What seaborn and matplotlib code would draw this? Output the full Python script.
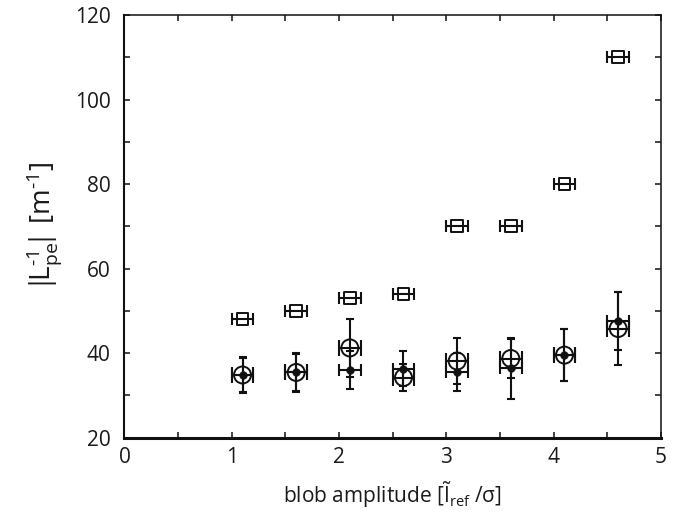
import matplotlib
matplotlib.use("Agg")
import matplotlib.pyplot as plt
import seaborn as sns
import pandas as pd
from matplotlib.ticker import MultipleLocator

# ---- data ----
amplitude = [1.1, 1.6, 2.1, 2.6, 3.1, 3.6, 4.1, 4.6]
amp_err = [0.1, 0.1, 0.1, 0.1, 0.1, 0.1, 0.1, 0.1]

square_vals = [48, 50, 53, 54, 70, 70, 80, 110]

circle_vals = [34.8, 35.4, 41.2, 34.2, 38.1, 38.7, 39.5, 45.8]
circle_err = [4.3, 4.6, 6.8, 3.1, 5.5, 4.6, 6.1, 8.7]

dot_vals = [34.8, 35.4, 36.0, 36.3, 35.6, 36.4, 39.5, 47.6]
dot_err = [4.0, 4.3, 4.4, 4.2, 4.5, 7.2, 6.1, 6.9]

xticks = [0, 1, 2, 3, 4, 5]
yticks = [20, 40, 60, 80, 100, 120]

sns.set_style("ticks")
plt.rcParams["font.family"] = ["Open Sans", "DejaVu Sans"]
plt.rcParams["mathtext.fontset"] = "custom"
plt.rcParams["mathtext.rm"] = "Open Sans"
plt.rcParams["mathtext.it"] = "Open Sans"
plt.rcParams["mathtext.default"] = "regular"

df_sq = pd.DataFrame({"x": amplitude, "y": square_vals})
df_ci = pd.DataFrame({"x": amplitude, "y": circle_vals})
df_dt = pd.DataFrame({"x": amplitude, "y": dot_vals})

fig = plt.figure(figsize=(6.78, 5.14), dpi=100)
ax = fig.add_axes([0.1836, 0.1488, 0.975 - 0.1836, 0.9708 - 0.1488])

col = "#111111"
lw = 1.5

# squares: horizontal error bars only
ax.errorbar(amplitude, square_vals, xerr=amp_err, fmt="none", ecolor=col,
            elinewidth=lw, capsize=4.6, capthick=lw, zorder=2)
# circles
ax.errorbar(amplitude, circle_vals, xerr=amp_err, fmt="none", ecolor=col,
            elinewidth=lw, capsize=5.8, capthick=lw, zorder=2)
ax.errorbar(amplitude, circle_vals, yerr=circle_err, fmt="none", ecolor=col,
            elinewidth=lw, capsize=2.6, capthick=lw, zorder=2)
# dots
ax.errorbar(amplitude, dot_vals, xerr=amp_err, fmt="none", ecolor=col,
            elinewidth=lw, capsize=4.3, capthick=lw, zorder=2)
ax.errorbar(amplitude, dot_vals, yerr=dot_err, fmt="none", ecolor=col,
            elinewidth=lw, capsize=2.6, capthick=lw, zorder=2)

sns.scatterplot(data=df_sq, x="x", y="y", marker="s", s=72, facecolor="none",
                edgecolor=col, linewidth=1.4, ax=ax, zorder=3)
sns.scatterplot(data=df_ci, x="x", y="y", marker="o", s=150, facecolor="none",
                edgecolor=col, linewidth=1.4, ax=ax, zorder=3)
sns.scatterplot(data=df_dt, x="x", y="y", marker="o", s=30, color=col,
                edgecolor=col, linewidth=0.5, ax=ax, zorder=4)

ax.set_xlim(0, 5)
ax.set_ylim(20, 120)
ax.set_xticks(xticks)
ax.set_yticks(yticks)
ax.xaxis.set_minor_locator(MultipleLocator(0.5))
ax.yaxis.set_minor_locator(MultipleLocator(10))
ax.tick_params(which="both", direction="in", top=True, right=True,
               length=4, width=1.1, color=col, labelsize=15, labelcolor="#1a1a1a")
ax.tick_params(axis="x", which="major", pad=7)
ax.tick_params(axis="y", which="major", pad=10)

for side, w in [("bottom", 2.2), ("left", 1.5), ("top", 1.1), ("right", 1.1)]:
    ax.spines[side].set_linewidth(w)
    ax.spines[side].set_color(col)

ax.set_xlabel(r"blob amplitude [$\tilde{I}_{ref}$ /$\sigma$]", fontsize=15,
              color="#1a1a1a", labelpad=8)
ax.set_ylabel(r"$|\!L^{\text{-}1}_{pe}\!|$ [m$^{\text{-}1}$]", fontsize=20,
              color="#1a1a1a", labelpad=8)

fig.savefig("out.png", dpi=100)
